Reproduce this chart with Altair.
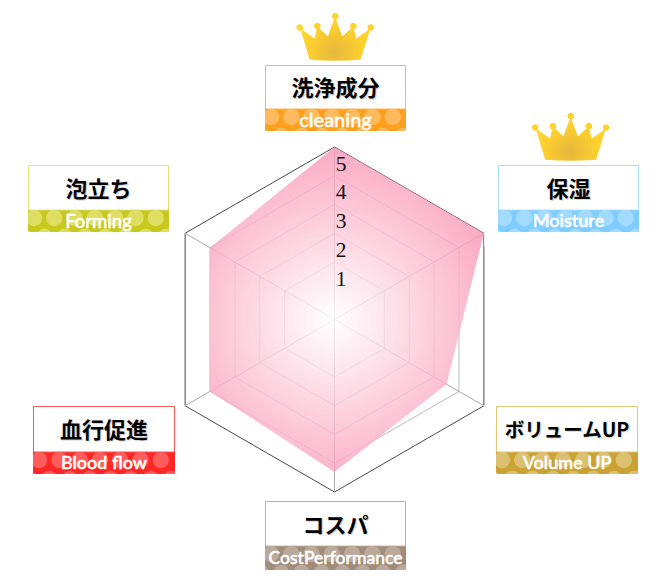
import math
import altair as alt
import pandas as pd

# ---------- chart values ----------
axes_en = ["cleaning", "Moisture", "Volume UP", "CostPerformance", "Blood flow", "Forming"]
axes_ja = ["洗浄成分", "保湿", "ボリュームUP", "コスパ", "血行促進", "泡立ち"]
scores = [5.0, 5.0, 3.5, 4.3, 4.0, 4.0]
ticks = [1, 2, 3, 4, 5]
crowned = ["cleaning", "Moisture"]

# ---------- layout (image pixels) ----------
CX, CY, UNIT, AXIS_MIN = 334.5, 319.5, 34.5 * 5 / 6, -1
boxes = [(265, 406, 65, 109, 131), (498, 639, 165, 210, 232), (496, 638, 406, 452, 474),
         (265, 406, 501, 546, 570), (33, 175, 406, 452, 474), (28, 169, 165, 210, 232)]
strip_colors = ["#FF9F1E", "#7FCDFF", "#C9A233", "#A18C7A", "#FF2626", "#C8C81E"]
dot_colors = ["#FFBA5E", "#A3DBFF", "#DCC072", "#BBAA9C", "#FF5C5C", "#DEDE62"]
border_colors = ["#F7B75A", "#A6E0FF", "#E3C676", "#C4B496", "#F25A5A", "#E2E27A"]
en_sizes = [20, 18, 18, 17.5, 18, 18.5]
ja_sizes = [22, 22, 19.5, 22, 22, 22]
crown_x_shift = [0, 2.5]

sx = alt.Scale(domain=[8, 662], range=[0, 654], nice=False, zero=False)
sy = alt.Scale(domain=[8, 576], range=[0, 568], nice=False, zero=False)
X = alt.X("x:Q", scale=sx, axis=None)
Y = alt.Y("y:Q", scale=sy, axis=None)


def vertex(v, i):
    r = (v - AXIS_MIN) * UNIT
    a = math.radians(60 * i)
    return CX + r * math.sin(a), CY - r * math.cos(a)


def radar_frame(v, gid):
    return [dict(x=vertex(v, i)[0], y=vertex(v, i)[1], i=i, g=gid) for i in range(6)]


layers = []

# grid
for tick in ticks:
    col = "#4a4a4a" if tick == 5 else "#bdbdbd"
    layers.append(alt.Chart(pd.DataFrame(radar_frame(tick, tick))).mark_line(
        interpolate="linear-closed", stroke=col, strokeWidth=1
    ).encode(X, Y, order="i:Q"))
spokes = []
for i in range(6):
    x, y = vertex(ticks[-1], i)
    spokes.append(dict(x=CX, y=CY, x2=x, y2=y))
layers.append(alt.Chart(pd.DataFrame(spokes)).mark_rule(color="#a8a8a8", strokeWidth=1).encode(X, Y, x2="x2:Q", y2="y2:Q"))

# score polygon
poly = pd.DataFrame([dict(x=vertex(s, i)[0], y=vertex(s, i)[1], i=i) for i, s in enumerate(scores)])
xs, ys = poly.x, poly.y
fx = (CX - xs.min()) / (xs.max() - xs.min())
fy = (CY - ys.min()) / (ys.max() - ys.min())
grad = alt.RadialGradient(
    gradient="radial", x1=fx, y1=fy, r1=0, x2=fx, y2=fy, r2=0.6,
    stops=[alt.GradientStop(color="#ffffff", offset=0),
           alt.GradientStop(color="#f98aad", offset=1)])
layers.append(alt.Chart(poly).mark_line(
    interpolate="linear-closed", fill=grad, stroke="transparent", fillOpacity=0.82
).encode(X, Y, order="i:Q"))

# tick labels
tick_df = pd.DataFrame([dict(x=CX + 6.5, y=vertex(t, 0)[1] + 17.5, t=str(t)) for t in ticks])
layers.append(alt.Chart(tick_df).mark_text(font="Liberation Serif", fontSize=21.5, color="#111111").encode(X, Y, text="t:N"))

# badges
strips, dots, covers, bodies, ja, ja_sh, en = [], [], [], [], [], [], []
for k, (x0, x1, y0, ym, y1) in enumerate(boxes):
    strips.append(dict(x=x0, x2=x1, y=ym, y2=y1, c=strip_colors[k]))
    for col in range(8):
        top_x = x0 + 6 + col * 20.3
        low_x = x0 - 4 + col * 20.3
        if top_x < x1 - 1:
            dots.append(dict(x=top_x, y=ym + 8, c=dot_colors[k]))
        dots.append(dict(x=low_x, y=ym + 27, c=dot_colors[k]))
    covers += [dict(x=x0 - 13.5, x2=x0, y=ym - 1, y2=y1 + 14.5),
               dict(x=x1, x2=x1 + 7, y=ym - 1, y2=y1 + 14.5),
               dict(x=x0 - 13.5, x2=x1 + 7, y=y1, y2=y1 + 14.5)]
    bodies.append(dict(x=x0 + .5, x2=x1 - .5, y=y0 + .5, y2=ym, c=border_colors[k]))
    cx = (x0 + x1) / 2
    ja.append(dict(x=cx, y=(y0 + ym) / 2 + 2, t=axes_ja[k], s=ja_sizes[k]))
    ja_sh.append(dict(x=cx + 1.2, y=(y0 + ym) / 2 + 3.2, t=axes_ja[k], s=ja_sizes[k]))
    en.append(dict(x=cx, y=(ym + y1) / 2 + .5, t=axes_en[k], s=en_sizes[k]))

layers.append(alt.Chart(pd.DataFrame(strips)).mark_rect().encode(
    X, Y, x2="x2:Q", y2="y2:Q", fill=alt.Fill("c:N", scale=None)))
layers.append(alt.Chart(pd.DataFrame(dots)).mark_circle(size=270, opacity=1).encode(
    X, Y, color=alt.Color("c:N", scale=None)))
layers.append(alt.Chart(pd.DataFrame(covers)).mark_rect(fill="white").encode(X, Y, x2="x2:Q", y2="y2:Q"))
layers.append(alt.Chart(pd.DataFrame(bodies)).mark_rect(fill="white", strokeWidth=1).encode(
    X, Y, x2="x2:Q", y2="y2:Q", stroke=alt.Stroke("c:N", scale=None)))
layers.append(alt.Chart(pd.DataFrame(ja_sh)).mark_text(
    font="Noto Sans CJK JP", fontWeight="bold", color="#888888", opacity=0.35
).encode(X, Y, text="t:N", size=alt.Size("s:Q", scale=None)))
layers.append(alt.Chart(pd.DataFrame(ja)).mark_text(
    font="Noto Sans CJK JP", fontWeight="bold", color="#000000"
).encode(X, Y, text="t:N", size=alt.Size("s:Q", scale=None)))
layers.append(alt.Chart(pd.DataFrame(en)).mark_text(
    font="Lato", fontWeight=500, color="#ffffff", stroke="#ffffff", strokeWidth=0.45
).encode(X, Y, text="t:N", size=alt.Size("s:Q", scale=None)))


# crowns
def P(x, y):
    return f"{(x - 226) / 115.5:.3f},{(y - 96) / 115.5:.3f}"


def ball(x, y, r=10):
    k = r * 0.5523
    return (f"M{P(x - r, y)}C{P(x - r, y - k)} {P(x - k, y - r)} {P(x, y - r)}"
            f"C{P(x + k, y - r)} {P(x + r, y - k)} {P(x + r, y)}"
            f"C{P(x + r, y + k)} {P(x + k, y + r)} {P(x, y + r)}"
            f"C{P(x - k, y + r)} {P(x - r, y + k)} {P(x - r, y)}Z")


crown_path = ("M" + P(150, 166) + "L" + P(122, 72) + "L" + P(165, 102) + "L" + P(173, 66) + "L" + P(205, 95)
              + "L" + P(226, 36) + "L" + P(248, 95) + "L" + P(281, 66) + "L" + P(290, 102) + "L" + P(332, 72)
              + "L" + P(303, 166) + "Q" + P(226, 172) + " " + P(150, 166) + "Z"
              + ball(120, 69) + ball(173, 65) + ball(227, 35) + ball(281, 65) + ball(333, 69))
crown_grad = alt.RadialGradient(
    gradient="radial", x1=0.5, y1=0.7, r1=0, x2=0.5, y2=0.7, r2=0.38,
    stops=[alt.GradientStop(color="#E6B73C", offset=0),
           alt.GradientStop(color="#FFD22E", offset=1)])
crown_df = pd.DataFrame([dict(x=(boxes[axes_en.index(n)][0] + boxes[axes_en.index(n)][1]) / 2 - .5 + crown_x_shift[j],
                              y=boxes[axes_en.index(n)][2] - 28.5) for j, n in enumerate(crowned)])
layers.append(alt.Chart(crown_df).mark_point(
    shape=crown_path, filled=True, fill=crown_grad, size=4 * (115.5 / 3) ** 2, opacity=1, strokeWidth=0
).encode(X, Y))

chart = alt.layer(*layers).properties(
    width=654, height=568, padding=0, autosize="none"
).configure_view(stroke=None)

chart.save("out.html", embed_options={"renderer": "svg", "actions": False})
